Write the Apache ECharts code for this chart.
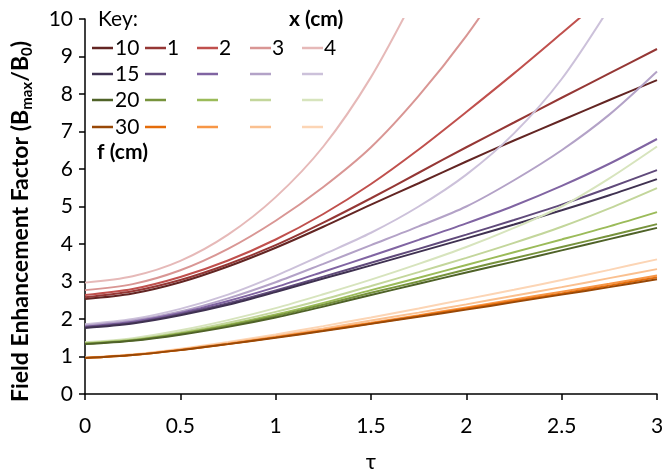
<!DOCTYPE html>
<html>
<head>
<meta charset="utf-8">
<script src="https://cdn.jsdelivr.net/npm/echarts@6/dist/echarts.min.js"></script>
<style>
html,body{margin:0;padding:0;background:#fff;}
#c{width:663px;height:470px;}
</style>
</head>
<body>
<div id="c"></div>
<script>
// ---- data ----
const tau = [0, 0.25, 0.5, 0.75, 1, 1.25, 1.5, 1.75, 2, 2.25, 2.5, 2.75, 3];
const fValues = ['10', '15', '20', '30'];   // f (cm)
const xValues = ['0', '1', '2', '3', '4'];  // x (cm)
const xTickLabels = ['0', '0.5', '1', '1.5', '2', '2.5', '3'];

// f = 10
const f10_x0 = [2.53, 2.68, 2.98, 3.40, 3.90, 4.46, 5.05, 5.62, 6.20, 6.76, 7.30, 7.84, 8.37];
const f10_x1 = [2.58, 2.74, 3.04, 3.46, 3.97, 4.57, 5.22, 5.90, 6.58, 7.24, 7.90, 8.55, 9.20];
const f10_x2 = [2.64, 2.80, 3.12, 3.56, 4.12, 4.80, 5.60, 6.52, 7.52, 8.55, 9.62, 10.70];
const f10_x3 = [2.77, 2.93, 3.30, 3.87, 4.62, 5.52, 6.58, 7.95, 9.55, 11.40];
const f10_x4 = [2.97, 3.14, 3.55, 4.25, 5.25, 6.60, 8.45, 10.80];
// f = 15
const f15_x0 = [1.76, 1.88, 2.10, 2.38, 2.72, 3.08, 3.43, 3.79, 4.15, 4.52, 4.90, 5.30, 5.73];
const f15_x1 = [1.78, 1.90, 2.13, 2.42, 2.76, 3.13, 3.50, 3.87, 4.25, 4.64, 5.05, 5.50, 5.97];
const f15_x2 = [1.80, 1.93, 2.16, 2.48, 2.85, 3.26, 3.68, 4.11, 4.55, 5.02, 5.55, 6.14, 6.80];
const f15_x3 = [1.83, 1.96, 2.20, 2.55, 2.98, 3.47, 3.97, 4.47, 5.00, 5.70, 6.50, 7.45, 8.60];
const f15_x4 = [1.86, 2.00, 2.27, 2.65, 3.15, 3.72, 4.30, 5.00, 5.85, 6.95, 8.40, 10.30];
// f = 20
const f20_x0 = [1.33, 1.42, 1.58, 1.79, 2.04, 2.33, 2.64, 2.94, 3.24, 3.53, 3.83, 4.13, 4.43];
const f20_x1 = [1.34, 1.43, 1.60, 1.82, 2.08, 2.38, 2.70, 3.00, 3.32, 3.62, 3.92, 4.22, 4.53];
const f20_x2 = [1.35, 1.44, 1.62, 1.85, 2.12, 2.43, 2.77, 3.10, 3.44, 3.78, 4.12, 4.47, 4.85];
const f20_x3 = [1.36, 1.46, 1.65, 1.90, 2.19, 2.52, 2.88, 3.25, 3.63, 4.03, 4.46, 4.95, 5.49];
const f20_x4 = [1.38, 1.49, 1.70, 1.97, 2.29, 2.66, 3.05, 3.47, 3.92, 4.43, 5.00, 5.75, 6.60];
// f = 30
const f30_x0 = [0.96, 1.04, 1.17, 1.33, 1.50, 1.68, 1.87, 2.06, 2.25, 2.45, 2.65, 2.85, 3.06];
const f30_x1 = [0.96, 1.04, 1.17, 1.33, 1.51, 1.69, 1.88, 2.08, 2.28, 2.48, 2.68, 2.89, 3.11];
const f30_x2 = [0.96, 1.04, 1.18, 1.34, 1.52, 1.71, 1.90, 2.10, 2.31, 2.52, 2.73, 2.94, 3.16];
const f30_x3 = [0.97, 1.05, 1.19, 1.36, 1.55, 1.75, 1.96, 2.17, 2.39, 2.62, 2.85, 3.09, 3.33];
const f30_x4 = [0.97, 1.06, 1.21, 1.39, 1.59, 1.81, 2.04, 2.28, 2.53, 2.78, 3.04, 3.31, 3.59];

const seriesValues = [
  [f10_x0, f10_x1, f10_x2, f10_x3, f10_x4],
  [f15_x0, f15_x1, f15_x2, f15_x3, f15_x4],
  [f20_x0, f20_x1, f20_x2, f20_x3, f20_x4],
  [f30_x0, f30_x1, f30_x2, f30_x3, f30_x4]
];
const colors = [
  ['#632523', '#953735', '#C0504D', '#D99694', '#E6B9B8'],
  ['#3F3151', '#604A7B', '#8064A2', '#B3A2C7', '#CCC1DA'],
  ['#4F6228', '#77933C', '#9BBB59', '#C3D69B', '#D7E4BD'],
  ['#984807', '#E46C0A', '#F79646', '#FAC090', '#FCD5B5']
];

// ---- chart ----
const FONT = 'Lato, "Noto Sans", sans-serif';
const series = [];
for (let fi = 0; fi < fValues.length; fi++) {
  for (let xi = xValues.length - 1; xi >= 0; xi--) {
    const vals = seriesValues[fi][xi];
    series.push({
      name: 'f=' + fValues[fi] + ' x=' + xValues[xi],
      type: 'line',
      smooth: 0.3,
      showSymbol: false,
      symbol: 'none',
      clip: true,
      lineStyle: { width: 2, color: colors[fi][xi] },
      itemStyle: { color: colors[fi][xi] },
      data: vals.map((v, i) => [tau[i], v])
    });
  }
}

// key (legend) drawn as graphics
const graphic = [];
const colX = [[92, 113], [145, 166], [197, 218], [250, 271], [302, 323]];
const rowY = [48, 74, 100, 127];
graphic.push({ type: 'text', left: 98, top: 9, style: { text: 'Key:', font: '21px ' + FONT, fill: '#000' } });
graphic.push({ type: 'text', left: 289, top: 9, style: { text: 'x (cm)', font: 'bold 21px ' + FONT, fill: '#000' } });
graphic.push({ type: 'text', left: 97, top: 142, style: { text: 'f (cm)', font: 'bold 21px ' + FONT, fill: '#000' } });
for (let fi = 0; fi < fValues.length; fi++) {
  for (let xi = 0; xi < xValues.length; xi++) {
    graphic.push({
      type: 'line',
      shape: { x1: colX[xi][0], y1: rowY[fi], x2: colX[xi][1], y2: rowY[fi] },
      style: { stroke: colors[fi][xi], lineWidth: 2.5 }
    });
  }
  graphic.push({ type: 'text', x: 115, y: rowY[fi], style: { text: fValues[fi], font: '21px ' + FONT, fill: '#000', textVerticalAlign: 'middle' } });
}
for (let xi = 1; xi < xValues.length; xi++) {
  graphic.push({ type: 'text', x: colX[xi][1] + 1, y: rowY[0], style: { text: xValues[xi], font: '21px ' + FONT, fill: '#000', textVerticalAlign: 'middle' } });
}

const chart = echarts.init(document.getElementById('c'), null, { renderer: 'canvas' });
chart.setOption({
  animation: false,
  backgroundColor: '#fff',
  grid: { left: 85, right: 6, top: 19, bottom: 76, containLabel: false, outerBoundsMode: 'none' },
  xAxis: {
    type: 'value', min: 0, max: 3, interval: 0.5,
    name: 'τ', nameLocation: 'middle', nameGap: 57,
    nameTextStyle: { fontFamily: FONT, fontSize: 22, color: '#000' },
    axisLine: { onZero: false, lineStyle: { color: '#000', width: 1.5 } },
    axisTick: { show: true, length: 6, lineStyle: { color: '#000', width: 1.5 } },
    axisLabel: { color: '#000', fontFamily: FONT, fontSize: 21, margin: 22,
      formatter: (v) => xTickLabels[Math.round(v / 0.5)] },
    splitLine: { show: false }
  },
  yAxis: {
    type: 'value', min: 0, max: 10, interval: 1,
    name: '{b|Field Enhancement Factor (B}{s|max}{b|/B}{s|0}{b|)}',
    nameLocation: 'middle', nameGap: 50, nameRotate: 90,
    nameTextStyle: {
      color: '#000',
      padding: [0, 30, 0, 0],
      rich: {
        b: { fontFamily: FONT, fontSize: 23, fontWeight: 'bold', color: '#000', lineHeight: 28 },
        s: { fontFamily: FONT, fontSize: 15, fontWeight: 'bold', color: '#000', verticalAlign: 'bottom', lineHeight: 15 }
      }
    },
    axisLine: { show: true, lineStyle: { color: '#000', width: 1.5 } },
    axisTick: { show: true, length: 6, lineStyle: { color: '#000', width: 1.5 } },
    axisLabel: { color: '#000', fontFamily: FONT, fontSize: 21, margin: 12 },
    splitLine: { show: false }
  },
  graphic: graphic,
  series: series
});
</script>
</body>
</html>
